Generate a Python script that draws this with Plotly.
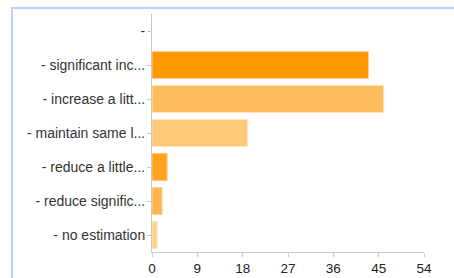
import plotly.graph_objects as go

categories = ["-", "- significant inc...", "- increase a litt...", "- maintain same l...",
              "- reduce a little...", "- reduce signific...", "- no estimation"]
values = [0, 43, 46, 19, 3, 2, 1]
bar_colors = ["#FF9900", "#FF9900", "#FFBE5E", "#FFC97A", "#FFA31F", "#FFB54A", "#FFD08A"]
line_colors = ["rgba(0,0,0,0)", "#FFD699", "#FFE3B8", "#FFE6C2", "#FFCB80", "#FFD699", "#FFE3B8"]
x_ticks = [0, 9, 18, 27, 36, 45, 54]

W, H = 454, 278
ml, mr, mt, mb = 152, 30, 14, 26
pw, ph = W - ml - mr, H - mt - mb

fig = go.Figure(go.Bar(
    x=values, y=categories, orientation="h",
    marker=dict(color=bar_colors, line=dict(color=line_colors, width=1)),
    width=0.8,
))

fig.update_layout(
    width=W, height=H,
    margin=dict(l=ml, r=mr, t=mt, b=mb),
    paper_bgcolor="white", plot_bgcolor="white",
    showlegend=False,
    font=dict(family="Liberation Sans, Arial, sans-serif", size=13, color="#333333"),
    xaxis=dict(range=[0, 54], tickvals=x_ticks, showgrid=False, zeroline=False,
               showline=True, linecolor="#C8C8C8", linewidth=1, automargin=False,
               ticks="outside", ticklen=4, tickcolor="#C8C8C8",
               tickfont=dict(size=13.5, color="#222222")),
    yaxis=dict(categoryorder="array", categoryarray=categories[::-1],
               autorange=False, range=[-0.5, 6.5], automargin=False,
               showgrid=False, zeroline=False,
               showline=True, linecolor="#C8C8C8", linewidth=1,
               ticks="outside", ticklen=4, tickcolor="#C8C8C8",
               ticklabelstandoff=-1,
               tickfont=dict(size=14, color="#333333")),
    shapes=[
        dict(type="rect", xref="paper", yref="paper",
             x0=(12 - ml) / pw, x1=(W + 20 - ml) / pw,
             y0=(H - mb - (H + 20)) / ph, y1=(H - mb - 8) / ph,
             line=dict(color="#B5D6FF", width=2), fillcolor="rgba(0,0,0,0)", layer="below"),
    ],
)

fig.write_html(
    "out.html",
    config={"displayModeBar": False},
    post_script="document.body.style.margin='0';document.body.style.overflow='hidden';",
)
